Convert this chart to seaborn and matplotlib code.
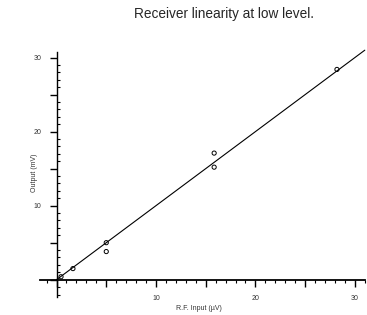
import matplotlib
matplotlib.use("Agg")
import matplotlib.pyplot as plt
import seaborn as sns
from matplotlib.ticker import MultipleLocator, FuncFormatter

# measured points
rf_input = [0.45, 1.65, 5.0, 5.0, 15.85, 15.85, 28.2]
output_mv = [0.4, 1.5, 5.0, 3.8, 17.1, 15.2, 28.4]

# straight line through the data
fit_x = [0.0, 31.0]
fit_y = [0.0, 31.0]

sns.set_theme(style="white")
plt.rcParams["font.family"] = ["Liberation Sans", "DejaVu Sans"]

fig = plt.figure(figsize=(3.67, 3.15), dpi=100)
ax = fig.add_axes([0.108, 0.058, 0.886, 0.778])

sns.lineplot(x=fit_x, y=fit_y, ax=ax, color="black", linewidth=0.8)
ax.lines[-1].set_clip_on(False)
sns.scatterplot(x=rf_input, y=output_mv, ax=ax, marker="o", s=9,
                facecolor="none", edgecolor="black", linewidth=0.7)

ax.set_xlim(-1.7, 31.0)
ax.set_ylim(-2.3, 30.8)

# axes cross at the origin
ax.spines["left"].set_position(("data", 0))
ax.spines["bottom"].set_position(("data", 0))
ax.spines["top"].set_visible(False)
ax.spines["right"].set_visible(False)
for s in ("left", "bottom"):
    ax.spines[s].set_color("black")
ax.spines["left"].set_linewidth(1.0)
ax.spines["bottom"].set_linewidth(1.3)

def ten_only(v, pos):
    if v > 0 and round(v) % 10 == 0:
        return str(int(round(v)))
    return ""

for axis in (ax.xaxis, ax.yaxis):
    axis.set_major_locator(MultipleLocator(5))
    axis.set_minor_locator(MultipleLocator(1))
    axis.set_major_formatter(FuncFormatter(ten_only))

ax.tick_params(bottom=True, left=True, which="both")
ax.tick_params(axis="both", which="major", direction="out", length=5,
               width=1.0, color="black", labelsize=5, labelcolor="#333333", pad=6)
ax.tick_params(axis="both", which="minor", direction="out", length=2,
               width=0.8, color="black")
ax.tick_params(axis="y", which="minor", direction="in")

fig.text(0.61, 0.955, "Receiver linearity at low level.", fontsize=9.8,
         ha="center", va="center")

fig.text(0.542, 0.02, "R.F. Input (\u00b5V)", fontsize=5, color="#333333",
         ha="center", va="center")
fig.text(0.095, 0.453, "Output (mV)", fontsize=5, color="#333333",
         ha="center", va="center", rotation=90)

fig.savefig("out.png", dpi=100)
